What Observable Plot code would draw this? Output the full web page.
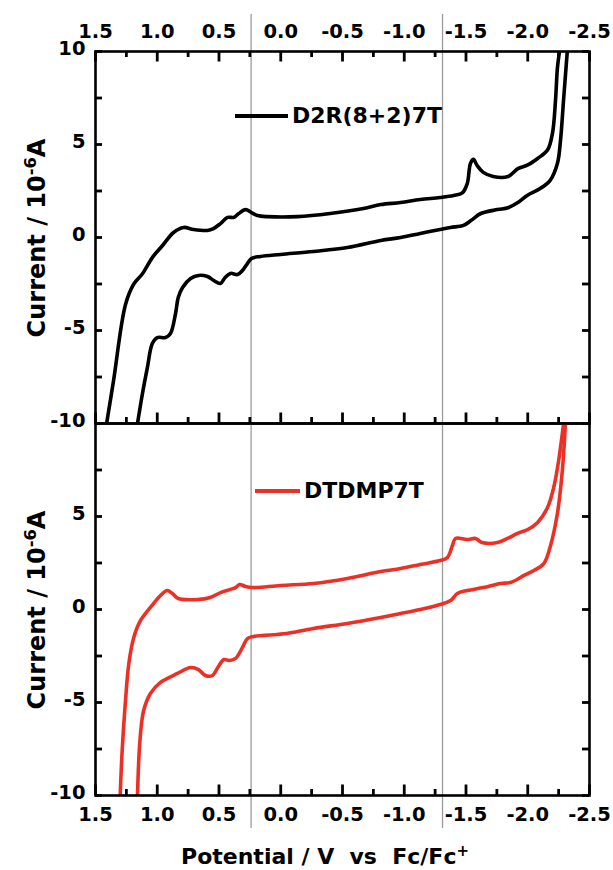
<!DOCTYPE html>
<html>
<head>
<meta charset="utf-8">
<script src="https://cdn.jsdelivr.net/npm/d3@7"></script>
<script src="https://cdn.jsdelivr.net/npm/@observablehq/plot@0.6"></script>
<style>
  html, body { margin: 0; padding: 0; background: #fff; }
  #wrap { position: relative; width: 613px; height: 870px; overflow: hidden;
          font-family: "DejaVu Sans", sans-serif; font-weight: bold; color: #000; }
  #wrap svg { position: absolute; left: 0; background: transparent !important; }
  .ytitle { position: absolute; white-space: pre; font-size: 24px; line-height: 1;
            transform: translate(-50%, -50%) rotate(-90deg); }
  .xtitle { position: absolute; white-space: pre; font-size: 22px; line-height: 22px;
            transform: translateX(-50%); }
  .legend { position: absolute; display: flex; align-items: center; font-size: 22px;
            line-height: 1; transform: translateY(-50%); white-space: pre; }
  .legend .sw { display: inline-block; height: 3.6px; margin-right: 4px; }
  sup { font-size: 68%; line-height: 0; vertical-align: 0.55em; }
</style>
</head>
<body>
<div id="wrap"></div>
<script>
// ---------- data ----------
const seriesNames = ["D2R(8+2)7T", "DTDMP7T"];
const seriesColors = ["#000000", "#ec3026"];

// D2R(8+2)7T : forward scan (upper trace), potential (V vs Fc/Fc+) and current (1e-6 A)
const d2rFwdPotential = [1.41, 1.354, 1.257, 1.19, 1.12, 1.04, 0.957, 0.868, 0.787, 0.706, 0.593, 0.545, 0.488, 0.43, 0.38, 0.34, 0.285, 0.237, 0.188, 0.107, -0.136, -0.40, -0.67, -0.81, -0.97, -1.13, -1.29, -1.40, -1.47, -1.51, -1.536, -1.56, -1.59, -1.64, -1.72, -1.84, -1.92, -2.0, -2.08, -2.16, -2.2, -2.225, -2.24, -2.257];
const d2rFwdCurrent   = [-10, -7.7, -3.6, -2.5, -1.95, -1.08, -0.43, 0.27, 0.54, 0.43, 0.38, 0.48, 0.75, 1.08, 1.08, 1.29, 1.5, 1.34, 1.18, 1.12, 1.12, 1.29, 1.56, 1.77, 1.88, 2.04, 2.15, 2.26, 2.4, 2.9, 3.98, 4.2, 3.87, 3.5, 3.28, 3.28, 3.7, 3.9, 4.25, 4.7, 5.6, 7.4, 9.1, 10];
// D2R(8+2)7T : reverse scan (lower trace)
const d2rRevPotential = [-2.32, -2.29, -2.265, -2.24, -2.18, -2.10, -1.995, -1.92, -1.84, -1.755, -1.62, -1.54, -1.48, -1.375, -1.29, -1.13, -0.97, -0.81, -0.54, -0.265, 0.0, 0.164, 0.237, 0.27, 0.31, 0.35, 0.407, 0.45, 0.488, 0.545, 0.593, 0.666, 0.73, 0.795, 0.83, 0.852, 0.893, 0.933, 1.0, 1.04, 1.08, 1.12, 1.16];
const d2rRevCurrent   = [10, 7.4, 5.2, 3.98, 3.06, 2.63, 2.26, 1.88, 1.6, 1.5, 1.29, 0.91, 0.65, 0.54, 0.43, 0.22, 0, -0.16, -0.54, -0.75, -0.91, -1.02, -1.13, -1.4, -1.77, -1.99, -1.93, -2.15, -2.47, -2.3, -2.1, -2.04, -2.2, -2.69, -3.23, -4.09, -5.16, -5.38, -5.38, -5.7, -7.0, -8.4, -10];

// DTDMP7T : forward scan (upper trace)
const dtdFwdPotential = [1.30, 1.284, 1.257, 1.23, 1.19, 1.135, 1.055, 0.974, 0.92, 0.877, 0.83, 0.674, 0.57, 0.488, 0.407, 0.366, 0.334, 0.285, 0.23, 0.19, 0.0, -0.265, -0.54, -0.81, -0.97, -1.13, -1.29, -1.35, -1.39, -1.415, -1.51, -1.577, -1.63, -1.755, -1.836, -1.917, -2.0, -2.08, -2.16, -2.21, -2.25, -2.28, -2.29];
const dtdFwdCurrent   = [-10, -7.58, -4.89, -2.9, -1.5, -0.59, 0.11, 0.75, 1.02, 0.86, 0.59, 0.54, 0.65, 0.91, 1.08, 1.18, 1.34, 1.24, 1.18, 1.18, 1.29, 1.40, 1.67, 2.04, 2.2, 2.42, 2.63, 2.8, 3.44, 3.82, 3.76, 3.82, 3.6, 3.6, 3.82, 4.09, 4.3, 4.68, 5.48, 6.56, 8.0, 9.46, 10];
// DTDMP7T : reverse scan (lower trace)
const dtdRevPotential = [-2.305, -2.28, -2.24, -2.18, -2.13, -2.05, -1.97, -1.86, -1.78, -1.64, -1.51, -1.43, -1.375, -1.29, -1.13, -0.97, -0.81, -0.54, -0.265, -0.05, 0.03, 0.22, 0.27, 0.31, 0.366, 0.42, 0.46, 0.51, 0.553, 0.61, 0.666, 0.73, 0.836, 0.974, 1.055, 1.11, 1.14, 1.16];
const dtdRevCurrent   = [10, 7.47, 5.16, 3.33, 2.47, 2.1, 1.83, 1.45, 1.4, 1.18, 1.02, 0.86, 0.48, 0.27, 0, -0.22, -0.43, -0.75, -1.02, -1.29, -1.34, -1.45, -1.56, -2.04, -2.63, -2.74, -2.69, -3.12, -3.55, -3.55, -3.23, -3.12, -3.44, -3.92, -4.52, -5.43, -7.04, -10];

// axes / reference lines
const xMajorTicks = [1.5, 1.0, 0.5, 0.0, -0.5, -1.0, -1.5, -2.0, -2.5];
const xMinorTicks = [1.25, 0.75, 0.25, -0.25, -0.75, -1.25, -1.75, -2.25];
const yTicks = [10, 7.5, 5, 2.5, 0, -2.5, -5, -7.5, -10];
const yLabelsTop = [10, 5, 0, -5, -10];
const yLabelsBottom = [5, 0, -5, -10];
const referencePotentials = [0.24, -1.31];

// ---------- drawing ----------
const toRows = (px, cy) => px.map((p, i) => ({p, c: cy[i]}));
const fmtX = d => d.toFixed(1);
const fmtY = d => String(d);

const W = 613, ML = 95, MR = 24, FRAME_H = 372;
const FRAME_W = W - ML - MR;
const MAJOR = 10.5, MINOR = 6, YTICK = 7;

function panel({fwd, rev, color, height, top, marginTop, marginBottom, xAnchor, tickEdges, yLabels, ruleInset, labelPadding}) {
  const tickStyle = {stroke: "#000", strokeWidth: 2.8};
  const marks = [
    Plot.ruleX(referencePotentials, {stroke: "#9b9b9b", strokeWidth: 1.3, ...ruleInset}),
    Plot.line(toRows(fwd[0], fwd[1]), {x: "p", y: "c", stroke: color, strokeWidth: 3.6, curve: "catmull-rom", clip: true}),
    Plot.line(toRows(rev[0], rev[1]), {x: "p", y: "c", stroke: color, strokeWidth: 3.6, curve: "catmull-rom", clip: true})
  ];
  // inward tick marks
  for (const a of tickEdges) {
    const key = a === "top" ? "insetBottom" : "insetTop";
    marks.push(Plot.ruleX(xMajorTicks, {...tickStyle, [key]: FRAME_H - MAJOR}));
    marks.push(Plot.ruleX(xMinorTicks, {...tickStyle, [key]: FRAME_H - MINOR}));
  }
  marks.push(Plot.ruleY(yTicks, {...tickStyle, insetRight: FRAME_W - YTICK}));
  marks.push(Plot.ruleY(yTicks, {...tickStyle, insetLeft: FRAME_W - YTICK}));
  marks.push(Plot.frame({stroke: "#000", strokeWidth: 2.6}));
  // tick labels
  marks.push(Plot.axisX(xMajorTicks, {anchor: xAnchor, tickSize: 0, tickPadding: labelPadding, tickFormat: fmtX, stroke: "none", fill: "#000", label: null, fontSize: 19.5, fontWeight: "bold"}));
  marks.push(Plot.axisY(yLabels, {anchor: "left", tickSize: 0, tickPadding: 10, tickFormat: fmtY, stroke: "none", fill: "#000", label: null, dy: -3, fontSize: 19.5, fontWeight: "bold"}));

  const svg = Plot.plot({
    width: W, height,
    marginTop, marginBottom, marginLeft: ML, marginRight: MR,
    x: {domain: [1.5, -2.5]},
    y: {domain: [-10, 10]},
    style: {fontFamily: "DejaVu Sans, sans-serif", fontWeight: "bold", fontSize: "19.5px", background: "transparent", color: "#000", overflow: "visible"},
    marks
  });
  svg.style.top = top + "px";
  return svg;
}

const wrap = document.getElementById("wrap");

wrap.appendChild(panel({
  fwd: [d2rFwdPotential, d2rFwdCurrent], rev: [d2rRevPotential, d2rRevCurrent],
  color: seriesColors[0], height: 440, top: 0, marginTop: 51, marginBottom: 17,
  xAnchor: "top", tickEdges: ["top", "bottom"], yLabels: yLabelsTop,
  ruleInset: {insetTop: -37}, labelPadding: 14
}));

wrap.appendChild(panel({
  fwd: [dtdFwdPotential, dtdFwdCurrent], rev: [dtdRevPotential, dtdRevCurrent],
  color: seriesColors[1], height: 470, top: 400, marginTop: 23, marginBottom: 75,
  xAnchor: "bottom", tickEdges: ["bottom"], yLabels: yLabelsBottom,
  ruleInset: {insetBottom: -33}, labelPadding: 12
}));

// axis titles and legends
function addDiv(cls, html, left, top) {
  const d = document.createElement("div");
  d.className = cls;
  d.innerHTML = html;
  d.style.left = left + "px";
  d.style.top = top + "px";
  wrap.appendChild(d);
  return d;
}
addDiv("ytitle", "Current / 10<sup>-6</sup>A", 37, 238);
addDiv("ytitle", "Current / 10<sup>-6</sup>A", 37, 610);
addDiv("xtitle", "Potential / V  vs  Fc/Fc<sup>+</sup>", 325, 846);

addDiv("legend", `<span class="sw" style="width:53px;background:${seriesColors[0]}"></span>${seriesNames[0]}`, 235, 116);
addDiv("legend", `<span class="sw" style="width:45px;background:${seriesColors[1]}"></span>${seriesNames[1]}`, 255, 491);
</script>
</body>
</html>
